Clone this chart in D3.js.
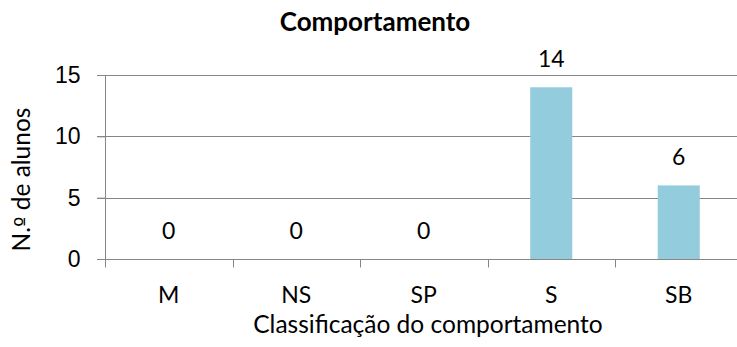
<!DOCTYPE html>
<html>
<head>
<meta charset="utf-8">
<script src="https://cdn.jsdelivr.net/npm/d3@7"></script>
<style>
  html, body { margin: 0; padding: 0; background: #fff; }
  svg { display: block; font-family: Lato, "Open Sans", sans-serif; }
</style>
</head>
<body>
<svg id="chart" width="737" height="347"></svg>
<script>
// Behaviour classification counts
const categories = ["M", "NS", "SP", "S", "SB"];
const values = [0, 0, 0, 14, 6];
const yTicks = [0, 5, 10, 15];
const chartTitle = "Comportamento";
const xTitle = "Classificação do comportamento";
const yTitleParts = ["N.", "º", " de alunos"];

const svg = d3.select("#chart");
const margin = { left: 105, top: 75, bottom: 259 };
const plotRight = 742.5;

const x = d3.scaleBand().domain(categories).range([margin.left, plotRight]).paddingInner(0.67).paddingOuter(0.335);
const xb = d3.scaleBand().domain(categories).range([margin.left, plotRight]);
const y = d3.scaleLinear().domain([0, 15]).range([margin.bottom, margin.top]);

const axisColor = "#868686";
const numSize = 23;
const labelSize = 24.5;

// horizontal gridlines
svg.append("g")
  .selectAll("line")
  .data(yTicks.filter(d => d > 0))
  .join("line")
  .attr("x1", margin.left - 8).attr("x2", plotRight)
  .attr("y1", d => Math.round(y(d)) + 0.5).attr("y2", d => Math.round(y(d)) + 0.5)
  .attr("stroke", axisColor).attr("stroke-width", 1);

// bars
svg.append("g")
  .selectAll("rect")
  .data(values)
  .join("rect")
  .attr("x", (d, i) => x(categories[i]))
  .attr("width", x.bandwidth())
  .attr("y", d => y(d))
  .attr("height", d => y(0) - y(d))
  .attr("fill", "#93CDDD");

// y axis
const yAxis = svg.append("g")
  .attr("transform", `translate(${margin.left + 0.5},0)`)
  .call(d3.axisLeft(y).tickValues(yTicks).tickSize(8).tickPadding(17));
yAxis.select(".domain").attr("stroke", axisColor).attr("d", `M0,${y(15)}V${y(0)}`);
yAxis.selectAll(".tick line").attr("stroke", axisColor);
yAxis.selectAll(".tick text").attr("font-size", numSize).attr("fill", "#000").attr("font-family", null);

// x axis with ticks at band boundaries
const xAxisG = svg.append("g")
  .attr("transform", `translate(0,${Math.round(y(0)) + 0.5})`);
xAxisG.append("line")
  .attr("x1", margin.left - 8).attr("x2", plotRight)
  .attr("stroke", axisColor);
xAxisG.selectAll("line.tk")
  .data(categories)
  .join("line")
  .attr("class", "tk")
  .attr("x1", d => Math.round(xb(d)) + 0.5).attr("x2", d => Math.round(xb(d)) + 0.5)
  .attr("y1", 0).attr("y2", 8)
  .attr("stroke", axisColor);
xAxisG.selectAll("text")
  .data(categories)
  .join("text")
  .attr("x", d => xb(d) + xb.bandwidth() / 2)
  .attr("y", 43)
  .attr("text-anchor", "middle")
  .attr("font-size", numSize)
  .text(d => d);

// value labels
svg.append("g")
  .selectAll("text")
  .data(values)
  .join("text")
  .attr("x", (d, i) => x(categories[i]) + x.bandwidth() / 2)
  .attr("y", d => y(d) - 20)
  .attr("text-anchor", "middle")
  .attr("font-size", numSize)
  .text(d => d);

// titles
svg.append("text")
  .attr("x", 375).attr("y", 31)
  .attr("text-anchor", "middle")
  .attr("font-size", 26).attr("font-weight", "bold")
  .text(chartTitle);

svg.append("text")
  .attr("x", 428).attr("y", 333)
  .attr("text-anchor", "middle")
  .attr("font-size", labelSize)
  .text(xTitle);

// y title; the ordinal indicator uses a face that draws it underlined
const yt = svg.append("text")
  .attr("transform", `translate(30,179.5) rotate(-90)`)
  .attr("text-anchor", "middle")
  .attr("font-size", labelSize);
yt.selectAll("tspan")
  .data(yTitleParts)
  .join("tspan")
  .attr("font-family", (d, i) => i === 1 ? "'DejaVu Sans', sans-serif" : null)
  .attr("font-size", (d, i) => i === 1 ? labelSize * 0.9 : null)
  .text(d => d);
</script>
</body>
</html>
